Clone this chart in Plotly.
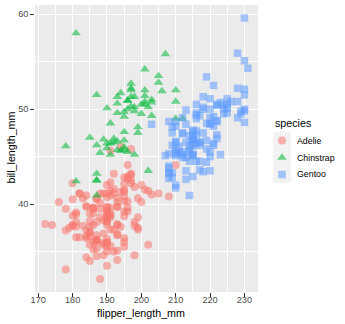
import plotly.graph_objects as go

# Palmer penguins: (flipper_length_mm, bill_length_mm) per species
adelie_flipper = [181, 186, 195, 193, 190, 181, 195, 193, 190, 186, 180, 182, 191, 198, 185, 195, 197, 184, 194,
                  174, 180, 189, 185, 180, 187, 183, 187, 172, 180, 178, 178, 188, 184, 195, 196, 190, 180, 181,
                  184, 182, 195, 186, 196, 185, 190, 182, 179, 190, 191, 186, 188, 190, 200, 187, 191, 186, 193,
                  181, 194, 185, 195, 185, 192, 184, 192, 195, 188, 190, 198, 190, 190, 196, 197, 190, 195, 191,
                  184, 187, 195, 189, 196, 187, 193, 191, 194, 190, 189, 189, 190, 202, 205, 185, 186, 187, 208,
                  190, 196, 178, 192, 192, 203, 183, 190, 193, 184, 199, 190, 181, 197, 198, 191, 193, 197, 191,
                  196, 188, 199, 189, 189, 187, 198, 176, 202, 186, 199, 191, 195, 191, 210, 190, 197, 193, 199,
                  187, 190, 191, 200, 185, 193, 193, 187, 188, 190, 192, 185, 190, 184, 195, 193, 187, 201]
adelie_bill = [39.1, 39.5, 40.3, 36.7, 39.3, 38.9, 39.2, 34.1, 42.0, 37.8, 37.8, 41.1, 38.6, 34.6, 36.6, 38.7,
               42.5, 34.4, 46.0, 37.8, 37.7, 35.9, 38.2, 38.8, 35.3, 40.6, 40.5, 37.9, 40.5, 39.5, 37.2, 39.5,
               40.9, 36.4, 39.2, 38.8, 42.2, 37.6, 39.8, 36.5, 40.8, 36.0, 44.1, 37.0, 39.6, 41.1, 37.5, 36.0,
               42.3, 39.6, 40.1, 35.0, 42.0, 34.5, 41.4, 39.0, 40.6, 36.5, 37.6, 35.7, 41.3, 37.6, 41.1, 36.4,
               41.6, 35.5, 41.1, 35.9, 41.8, 33.5, 39.7, 39.6, 45.8, 35.5, 42.8, 40.9, 37.2, 36.2, 42.1, 34.6,
               42.9, 36.7, 35.1, 37.3, 41.3, 36.3, 36.9, 38.3, 38.9, 35.7, 41.1, 34.0, 39.6, 36.2, 40.8, 38.1,
               40.3, 33.1, 43.2, 35.0, 41.0, 37.7, 37.8, 37.9, 39.7, 38.6, 38.2, 38.1, 43.2, 38.1, 45.6, 39.7,
               42.2, 39.6, 42.7, 38.6, 37.3, 35.7, 41.1, 36.2, 37.7, 40.2, 41.4, 35.2, 40.6, 38.8, 41.5, 39.0,
               44.1, 38.5, 43.1, 36.8, 37.5, 38.1, 41.1, 35.6, 40.2, 37.0, 39.7, 40.2, 40.6, 32.1, 40.7, 37.3,
               39.0, 39.2, 36.6, 36.0, 37.8, 36.0, 41.5]

chinstrap_flipper = [192, 196, 193, 188, 197, 198, 178, 197, 195, 198, 193, 194, 185, 201, 190, 201, 197, 181,
                     190, 195, 181, 191, 187, 193, 195, 197, 200, 200, 191, 205, 187, 201, 187, 203, 195, 199,
                     195, 210, 192, 205, 210, 187, 196, 196, 196, 201, 190, 212, 187, 198, 199, 201, 193, 203,
                     187, 197, 191, 203, 202, 194, 206, 189, 195, 207, 202, 193, 210, 198]
chinstrap_bill = [46.5, 50.0, 51.3, 45.4, 52.7, 45.2, 46.1, 51.3, 46.0, 51.3, 46.6, 51.7, 47.0, 52.0, 45.9,
                  50.5, 50.3, 58.0, 46.4, 49.2, 42.4, 48.5, 43.2, 50.6, 46.7, 52.0, 50.5, 49.5, 46.4, 52.8,
                  40.9, 54.2, 42.5, 51.0, 49.7, 47.5, 47.6, 52.0, 46.9, 53.5, 49.0, 46.2, 50.9, 45.5, 50.9,
                  50.8, 50.1, 49.0, 51.5, 49.8, 48.1, 51.4, 45.7, 50.7, 42.5, 52.2, 45.2, 49.3, 50.2, 45.6,
                  51.9, 46.8, 45.7, 55.8, 43.5, 49.6, 50.8, 50.2]

gentoo_flipper = [211, 230, 210, 218, 215, 210, 211, 219, 209, 215, 214, 216, 214, 213, 210, 217, 210, 221,
                  209, 222, 218, 215, 213, 215, 215, 215, 216, 215, 210, 220, 222, 209, 207, 230, 220, 220,
                  213, 219, 208, 208, 208, 225, 210, 216, 222, 217, 210, 225, 213, 215, 210, 220, 210, 225,
                  217, 220, 208, 220, 208, 224, 208, 221, 214, 231, 219, 230, 214, 229, 220, 223, 216, 221,
                  221, 217, 216, 230, 209, 220, 215, 223, 212, 221, 212, 224, 212, 228, 218, 218, 212, 230,
                  218, 228, 212, 224, 214, 226, 216, 222, 203, 225, 219, 228, 215, 228, 216, 215, 210, 219,
                  208, 209, 216, 229, 213, 230, 217, 230, 217, 222, 214, 215, 222, 212, 213]
gentoo_bill = [46.1, 50.0, 48.7, 50.0, 47.6, 46.5, 45.4, 46.7, 43.3, 46.8, 40.9, 49.0, 45.5, 48.4, 45.8, 49.3,
               42.0, 49.2, 46.2, 48.7, 50.2, 45.1, 46.5, 46.3, 42.9, 46.1, 44.5, 47.8, 48.2, 50.0, 47.3, 42.8,
               45.1, 59.6, 49.1, 48.4, 42.6, 44.4, 44.0, 48.7, 42.7, 49.6, 45.3, 49.6, 50.5, 43.6, 45.5, 50.5,
               44.9, 45.2, 46.6, 48.5, 45.1, 50.1, 46.5, 45.0, 43.8, 45.5, 43.2, 50.4, 45.3, 46.2, 45.7, 54.3,
               45.8, 49.8, 46.2, 49.5, 43.5, 50.7, 47.7, 46.4, 48.2, 46.5, 46.4, 48.6, 47.5, 51.1, 45.2, 45.2,
               49.1, 52.5, 47.4, 50.0, 44.9, 50.8, 43.4, 51.3, 47.5, 52.1, 47.5, 52.2, 45.5, 49.5, 44.5, 50.8,
               49.4, 46.9, 48.4, 51.1, 48.5, 55.9, 47.2, 49.1, 47.3, 46.8, 41.7, 53.4, 43.3, 48.1, 50.5, 49.8,
               43.5, 51.5, 46.2, 55.1, 44.5, 48.8, 47.2, 46.8, 50.4, 45.2, 49.9]

species = ["Adelie", "Chinstrap", "Gentoo"]
colors = ["#F8766D", "#00BA38", "#619CFF"]
symbols = ["circle", "triangle-up", "square"]
marker_sizes = [8, 8.5, 7.5]
xs = [adelie_flipper, chinstrap_flipper, gentoo_flipper]
ys = [adelie_bill, chinstrap_bill, gentoo_bill]

x_ticks = [170, 180, 190, 200, 210, 220, 230]
y_ticks = [40, 50, 60]

FONT = "Liberation Sans, Arial, sans-serif"
TITLE_SIZE = 10.7
TICK_SIZE = 9.2
LABEL_SIZE = 8.8
W, H = 345, 324

# pixel geometry of the panel and of the legend keys
PANEL = dict(left=35, right=258, top=5, bottom=292)
KEYS = dict(left=273.5, right=290.5, top=132, bottom=183)


def px_x(v):
    return v / W


def px_y(v):
    return 1 - v / H


fig = go.Figure()
for name, col, sym, size, x, y in zip(species, colors, symbols, marker_sizes, xs, ys):
    fig.add_trace(go.Scatter(
        x=x, y=y, mode="markers", name=name, showlegend=False,
        marker=dict(color=col, symbol=sym, size=size, opacity=0.55, line=dict(width=0)),
    ))

# legend symbols, drawn on a hidden axis pair that spans the key column
fig.add_trace(go.Scatter(
    x=[0.5, 0.5, 0.5], y=[2.5, 1.5, 0.5], mode="markers", xaxis="x2", yaxis="y2",
    showlegend=False, hoverinfo="skip",
    marker=dict(color=colors, symbol=symbols, size=marker_sizes, opacity=0.55, line=dict(width=0)),
))

axis_common = dict(
    showgrid=True, gridcolor="white", gridwidth=1.1,
    zeroline=False, showline=False,
    ticks="outside", ticklen=3.7, tickwidth=1.1, tickcolor="#333333",
    tickfont=dict(family=FONT, size=TICK_SIZE, color="#4D4D4D"),
)

fig.update_layout(
    xaxis=dict(
        domain=[px_x(PANEL["left"]), px_x(PANEL["right"])],
        range=[169.05, 233.95], tickvals=x_ticks, ticklabelstandoff=-5,
        minor=dict(tickvals=[175, 185, 195, 205, 215, 225], showgrid=True,
                   gridcolor="white", gridwidth=0.55, ticks=""),
        **axis_common,
    ),
    yaxis=dict(
        domain=[px_y(PANEL["bottom"]), px_y(PANEL["top"])],
        range=[30.725, 60.975], tickvals=y_ticks,
        minor=dict(tickvals=[35, 45, 55], showgrid=True,
                   gridcolor="white", gridwidth=0.55, ticks=""),
        **axis_common,
    ),
    xaxis2=dict(domain=[px_x(KEYS["left"]), px_x(KEYS["right"])], range=[0, 1],
                visible=False, fixedrange=True, anchor="y2"),
    yaxis2=dict(domain=[px_y(KEYS["bottom"]), px_y(KEYS["top"])], range=[0, 3],
                visible=False, fixedrange=True, anchor="x2"),
    width=W, height=H,
    margin=dict(l=0, r=0, t=0, b=0, autoexpand=False),
    plot_bgcolor="#EBEBEB", paper_bgcolor="white",
    font=dict(family=FONT),
    showlegend=False,
)

# grey key backgrounds
for i in range(3):
    fig.add_shape(type="rect", xref="x2", yref="y2", x0=0, x1=1, y0=i, y1=i + 1,
                  fillcolor="#F2F2F2", line=dict(width=0), layer="below")

# axis titles
fig.add_annotation(text="flipper_length_mm", xref="paper", yref="paper",
                   x=px_x(141), y=px_y(313),
                   xanchor="center", yanchor="middle", showarrow=False,
                   font=dict(family=FONT, size=TITLE_SIZE, color="black"))
fig.add_annotation(text="bill_length_mm", xref="paper", yref="paper",
                   x=px_x(10.5), y=px_y(148),
                   xanchor="center", yanchor="middle", showarrow=False, textangle=-90,
                   font=dict(family=FONT, size=TITLE_SIZE, color="black"))

# legend title and labels
fig.add_annotation(text="species", xref="paper", yref="paper",
                   x=px_x(273), y=px_y(122.5), xanchor="left", yanchor="middle",
                   showarrow=False, font=dict(family=FONT, size=TITLE_SIZE, color="black"))
for i, name in enumerate(species):
    fig.add_annotation(text=name, xref="paper", yref="paper",
                       x=px_x(295), y=px_y(KEYS["top"] + 17 * i + 8.5),
                       xanchor="left", yanchor="middle", showarrow=False,
                       font=dict(family=FONT, size=LABEL_SIZE, color="black"))

fig.write_html("out.html")
